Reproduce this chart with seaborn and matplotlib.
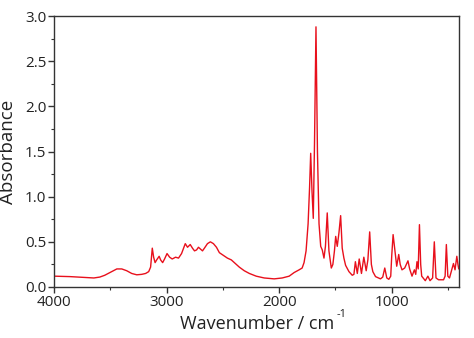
import matplotlib
matplotlib.use("Agg")
import matplotlib.pyplot as plt
import seaborn as sns
import pandas as pd
from matplotlib.ticker import MultipleLocator

# Spectrum (wavenumber in cm^-1, absorbance)
wavenumber = [4000, 3858, 3646, 3593, 3549, 3504, 3442, 3398, 3354, 3310,
              3265, 3221, 3186, 3159, 3142, 3127, 3115, 3102, 3088, 3066,
              3053, 3035, 3018, 2996, 2973, 2950, 2920, 2894, 2867, 2834,
              2814, 2790, 2770, 2752, 2734, 2717, 2699, 2681, 2664, 2637,
              2611, 2584, 2557, 2531, 2496, 2460, 2425, 2389, 2354, 2310,
              2265, 2204, 2133, 2044, 1973, 1911, 1867, 1823, 1796, 1779,
              1761, 1743, 1730, 1720, 1708, 1697, 1686, 1673, 1660, 1646,
              1631, 1617, 1602, 1589, 1573, 1558, 1537, 1523, 1509, 1498,
              1484, 1469, 1454, 1440, 1425, 1410, 1380, 1351, 1336, 1323,
              1306, 1289, 1269, 1248, 1227, 1212, 1196, 1181, 1168, 1144,
              1100, 1080, 1062, 1044, 1026, 1009, 1000, 988, 973, 956,
              938, 925, 909, 885, 856, 841, 820, 799, 787, 776,
              765, 754, 743, 734, 702, 679, 660, 637, 622, 607,
              584, 540, 526, 515, 502, 487, 467, 452, 438, 422,
              412, 405]
absorbance = [0.12, 0.115, 0.10, 0.11, 0.13, 0.16, 0.20, 0.20, 0.18, 0.15,
              0.135, 0.14, 0.15, 0.17, 0.22, 0.43, 0.33, 0.27, 0.30, 0.34,
              0.30, 0.27, 0.31, 0.37, 0.33, 0.31, 0.33, 0.32, 0.37, 0.48,
              0.44, 0.47, 0.43, 0.40, 0.41, 0.44, 0.42, 0.40, 0.43, 0.48,
              0.50, 0.48, 0.44, 0.38, 0.35, 0.32, 0.30, 0.26, 0.22, 0.18,
              0.15, 0.12, 0.10, 0.09, 0.10, 0.12, 0.16, 0.19, 0.21, 0.27,
              0.40, 0.70, 1.10, 1.48, 1.05, 0.76, 1.60, 2.88, 1.50, 0.70,
              0.45, 0.41, 0.32, 0.45, 0.82, 0.40, 0.21, 0.25, 0.40, 0.56,
              0.45, 0.60, 0.79, 0.43, 0.32, 0.24, 0.17, 0.13, 0.14, 0.28,
              0.15, 0.31, 0.15, 0.33, 0.18, 0.30, 0.61, 0.25, 0.17, 0.115,
              0.09, 0.11, 0.21, 0.10, 0.085, 0.12, 0.35, 0.58, 0.42, 0.23,
              0.36, 0.25, 0.19, 0.21, 0.29, 0.20, 0.12, 0.19, 0.14, 0.28,
              0.20, 0.69, 0.25, 0.12, 0.07, 0.12, 0.07, 0.10, 0.50, 0.10,
              0.08, 0.08, 0.12, 0.47, 0.12, 0.10, 0.19, 0.26, 0.19, 0.34,
              0.25, 0.20]

x_ticks = [4000, 3000, 2000, 1000]
y_ticks = [0.0, 0.5, 1.0, 1.5, 2.0, 2.5, 3.0]

df = pd.DataFrame({"wn": wavenumber, "A": absorbance})

sns.set_theme(style="ticks")
plt.rcParams["font.family"] = ["Open Sans", "DejaVu Sans"]

fig = plt.figure(figsize=(4.74, 3.38), dpi=100)
ax = fig.add_axes([54 / 474, 51 / 338, 405.3 / 474, 271 / 338])

sns.lineplot(data=df, x="wn", y="A", ax=ax, color="#e8101c", linewidth=1.0,
             estimator=None, sort=False)

ax.set_xlim(4000, 400)
ax.set_ylim(0, 3.0)
ax.set_xticks(x_ticks)
ax.set_xticklabels([str(t) for t in x_ticks])
ax.set_yticks(y_ticks)
ax.set_yticklabels([f"{t:.1f}" for t in y_ticks])
ax.xaxis.set_minor_locator(MultipleLocator(500))
ax.yaxis.set_minor_locator(MultipleLocator(0.25))

for s in ax.spines.values():
    s.set_visible(True)
    s.set_color("#333333")
    s.set_linewidth(1.0)

ax.tick_params(axis="both", which="major", direction="out", length=4, width=1.0,
               color="#333333", labelsize=11, labelcolor="#222222", pad=1.5,
               top=False, right=False)
ax.tick_params(axis="both", which="minor", direction="out", length=2.5, width=0.8,
               color="#333333", top=False, right=False)

ax.set_xlabel("Wavenumber / cm", fontsize=13, color="#222222", labelpad=4)
ax.set_ylabel("Absorbance", fontsize=13.5, color="#222222", labelpad=6)

fig.canvas.draw()
bb = ax.xaxis.label.get_window_extent()
fig.text((bb.x1 + 3) / fig.bbox.width, (bb.y1 + 6) / fig.bbox.height, "-1",
         fontsize=8, color="#222222", ha="left", va="top")

fig.savefig("out.png", dpi=100)
